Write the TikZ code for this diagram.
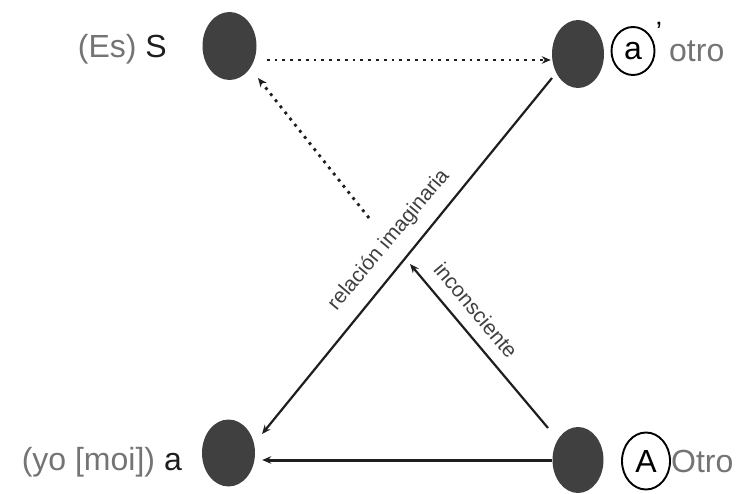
\documentclass[tikz,border=0pt]{standalone}
\usepackage{fontspec}
\setmainfont{Liberation Sans}
\usetikzlibrary{shapes.geometric,arrows.meta,calc}
\definecolor{dot}{HTML}{404040}
\definecolor{lbl}{HTML}{747474}
\definecolor{ink}{HTML}{1E1E1E}
\begin{document}
\begin{tikzpicture}[x=1pt,y=-1pt,
  vertex/.style={ellipse, fill=dot, inner sep=0pt, minimum width=54pt, minimum height=68pt},
  big/.style={font=\fontsize{32}{32}\selectfont, inner sep=0pt},
  small/.style={font=\fontsize{21}{21}\selectfont, inner sep=0pt, text=ink!85},
  ring/.style={draw, ellipse, line width=1.9pt, inner sep=0pt},
  solidarrow/.style={draw=ink, line width=2.2pt, -{Stealth[length=9pt,width=7.5pt]}},
  dotarrow/.style={draw=ink, line width=2.8pt, dash pattern=on 2.8pt off 5pt, -{Stealth[length=9pt,width=7.5pt]}}]
\useasboundingbox (0,0) rectangle (742,494);
\node[vertex] (S) at (229.5,46) {};
\node[vertex,minimum width=52pt] (ap) at (578,54) {};
\node[vertex,minimum width=53pt,minimum height=67pt] (a) at (228.5,453) {};
\node[vertex,minimum width=51pt,minimum height=66pt] (A) at (578,460) {};

\node[big, anchor=base east] (lS) at (167,58) {\textcolor{lbl}{(Es)} \textcolor{ink}{S}};
\node[big, anchor=base east] (la) at (182,470) {\textcolor{lbl}{(yo [moi])} \textcolor{ink}{a}};
\node[big, ring, minimum width=43pt, minimum height=48pt] (rap) at (633,51) {a};
\node[big, anchor=base, font=\fontsize{28}{28}\selectfont] (pr) at (659,42) {’};
\node[big, anchor=base west, text=lbl] (lap) at (669,62) {otro};
\node[big, ring, minimum width=48pt, minimum height=57pt] (rA) at (646,461) {A};
\node[big, anchor=base west, text=lbl] (lA) at (671,472) {Otro};

\node[small, rotate=50] (ri) at (389,240) {relación imaginaria};
\node[small, rotate=-50] (inc) at (476,310) {inconsciente};

\coordinate (d1) at (369,218);
\coordinate (m) at (410,264);
\draw[dotarrow] ([xshift=10pt,yshift=-14pt]S.east) -- ([xshift=-1pt,yshift=-6pt]ap.west);
\draw[dotarrow] (d1) -- ([xshift=28.5pt,yshift=-32pt]S.center);
\draw[solidarrow] ([xshift=-26pt,yshift=-24pt]ap.center) -- ([xshift=33.5pt,yshift=19pt]a.center);
\draw[solidarrow] ([xshift=-30pt,yshift=32pt]A.center) -- (m);
\draw[solidarrow, line width=3pt] (A.west) -- ([xshift=7pt,yshift=-7pt]a.east);
\end{tikzpicture}
\end{document}
